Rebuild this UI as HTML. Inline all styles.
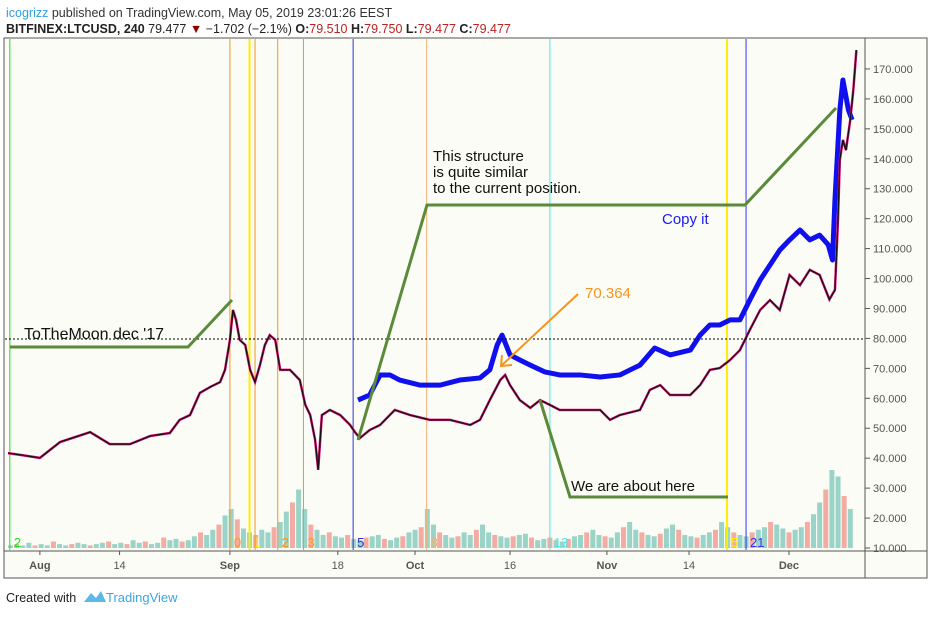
<!DOCTYPE html>
<html><head><meta charset="utf-8"><style>
body{margin:0;background:#fff;width:932px;height:614px;overflow:hidden;font-family:"Liberation Sans",sans-serif}
</style></head><body>
<svg id="c" width="932" height="614" xmlns="http://www.w3.org/2000/svg">
<text x="6" y="17" font-size="12.5" fill="#333"><tspan fill="#2e9fe0">icogrizz</tspan> published on TradingView.com, May 05, 2019 23:01:26 EEST</text>
<text x="6" y="33" font-size="12.5" fill="#222"><tspan font-weight="bold">BITFINEX:LTCUSD, 240</tspan> 79.477 <tspan fill="#8b0000">▼</tspan> −1.702 (−2.1%) <tspan font-weight="bold">O:</tspan><tspan fill="#b22">79.510</tspan> <tspan font-weight="bold">H:</tspan><tspan fill="#b22">79.750</tspan> <tspan font-weight="bold">L:</tspan><tspan fill="#b22">79.477</tspan> <tspan font-weight="bold">C:</tspan><tspan fill="#b22">79.477</tspan></text>
<rect x="4" y="38" width="923" height="540" fill="#fbfcf5" stroke="#555"/>
<line x1="865" y1="38" x2="865" y2="578" stroke="#555"/>
<line x1="4" y1="551" x2="927" y2="551" stroke="#555"/>
<g id="vol"></g><g id="vlines"></g><g id="ticks"></g><g id="series"></g>
<line x1="5" y1="339" x2="864" y2="339" stroke="#000" stroke-dasharray="2,2"/>
<polyline points="10,347 188,347 232,300" fill="none" stroke="#5a8a3a" stroke-width="3"/>
<polyline points="358,440 427,205 745,205 836,108" fill="none" stroke="#5a8a3a" stroke-width="3"/>
<polyline points="540,400 570,497 728,497" fill="none" stroke="#5a8a3a" stroke-width="3"/>
<line x1="578" y1="294" x2="502" y2="365" stroke="#f7941d" stroke-width="2"/>
<polyline points="502,355 501,366 512,365" fill="none" stroke="#f7941d" stroke-width="2"/>
<text x="24" y="339" font-size="16" fill="#111">ToTheMoon dec '17</text>
<text x="433" y="161" font-size="15" fill="#111"><tspan x="433">This structure</tspan><tspan x="433" dy="16">is quite similar</tspan><tspan x="433" dy="16">to the current position.</tspan></text>
<text x="662" y="224" font-size="15" fill="#1a1aee">Copy it</text>
<text x="585" y="298" font-size="15" fill="#f7941d">70.364</text>
<text x="571" y="491" font-size="15" fill="#111">We are about here</text>
<text x="6" y="602" font-size="12.5" fill="#222">Created with</text>
<path d="M84 602 l7 -9 l5 5 l5 -7 l5 11 z" fill="#5bb8e8"/>
<text x="106" y="602" font-size="13" fill="#3aa6e0">TradingView</text>
</svg>
<script>
const priceDays=[0,2,5.2,8.5,13.4,16.6,19.9,23.2,26.4,28,29.7,31.3,33,34.6,35.4,36.2,36.7,37.2,37.8,38.7,39.5,40.3,41.1,41.9,42.7,43.6,44.4,46,47.6,48.5,49.3,50.1,50.6,51.2,52.5,54.2,55.8,56.6,57.4,59,60.7,63.1,65.6,68.8,72.1,75.4,77,78.6,80.3,81.1,81.9,83.5,85.2,86.8,88.4,90,93.3,96.6,98.2,99.8,103.1,104.7,106.4,108,109.6,111.3,112.9,114.5,116.1,117.8,119.4,121,122.7,124.3,125.9,127.5,129.2,130.8,132.4,134,134.9,135.4,135.7,136.2,136.7,137.4,137.9,138.4];
const priceVals=[41.7,41.1,40.1,45.4,48.7,44.7,44.7,47.4,48.4,52.8,54.4,61.8,63.8,65.4,69.5,79.5,89.5,86.2,79.5,77.8,69.5,65.4,71.1,77.8,81.1,79.5,69.5,69.5,66.1,57.8,54.4,46.1,36.1,54.4,56.1,54.4,51.1,48.7,46.7,49.4,51.1,56.1,54.4,52.8,52.8,51.1,52.8,59.4,66.1,67.8,64.4,59.4,56.8,59.4,57.8,56.1,56.1,56.1,52.8,54.4,56.1,62.8,64.4,61.1,61.1,61.1,64.4,69.5,70.1,72.8,76.1,82.8,89.5,92.8,89.5,101.2,97.8,102.9,101.2,93,96.2,119.6,139.6,146.3,142.9,153,163,176.3];
const copyDays=[57.1,59,60.7,62.3,63.9,67.2,70.5,73.7,77,78.6,79.8,80.6,81.9,83.5,85.2,87.6,90,93.3,96.6,99.8,103.1,105.5,108,111.3,112.9,114.5,116.1,117.8,119.4,121,122.7,124.3,125.9,127.5,129.2,130.8,132.4,133.8,134.5,134.9,135.7,136.2,137.1,137.7];
const copyVals=[59.4,61.1,67.8,67.8,66.1,64.4,64.4,66.1,66.8,69.5,77.8,81.1,74.5,72.8,71.1,68.8,67.8,67.8,67.1,67.8,71.1,76.8,74.5,76.1,81.1,84.5,84.5,86.2,86.2,92.8,99.5,104.5,109.5,112.9,116.2,112.9,114.5,111.3,106.2,126.2,156.3,166.3,156.3,153];
const volumes=[2,3,2,4,2,3,2,5,3,2,3,4,3,2,3,4,5,3,4,3,6,4,5,3,4,8,6,7,5,6,9,12,10,14,18,25,30,22,15,12,10,14,12,16,20,28,35,45,30,18,14,10,12,9,8,10,7,6,8,9,10,7,6,8,9,12,14,16,30,18,12,10,8,9,12,10,14,18,12,10,9,8,9,10,11,8,6,7,8,6,5,7,9,10,12,14,10,9,8,12,16,20,14,12,10,9,11,15,18,14,10,9,8,10,12,14,20,16,12,10,9,12,14,16,20,18,15,12,14,16,20,26,35,45,60,55,40,30];
const priceTicks=[10,20,30,40,50,60,70,80,90,100,110,120,130,140,150,160,170];
const dateLabels=["Aug","14","Sep","18","Oct","16","Nov","14","Dec"];
const dateDays=[5.2,18.2,36.2,53.8,66.4,81.9,97.7,111.1,127.4];
const vlineDays=[0.3,36.2,39.4,40.3,44,48.2,56.3,68.3,88.4,117.3,120.4];
const vlineColors=["#22dd22","#f7941d","#ffee00","#f7941d","#f7941d","#f7941d","#3333cc","#f7b070","#44eeee","#ffee00","#3333ee"];
const fibLabels=["2","0","1","","2","3","5","8","13","5","21"];
const NS="http://www.w3.org/2000/svg";
const X=d=>8+d*6.13, Y=v=>548-(v-10)*2.994;
function mk(tag,attrs,parent){const e=document.createElementNS(NS,tag);for(const k in attrs)e.setAttribute(k,attrs[k]);document.getElementById(parent).appendChild(e);return e;}
volumes.forEach((v,i)=>{const r=mk('rect',{x:X(i),y:548-v*1.3,width:5,height:v*1.3,fill:i%3==1?'#f2aca4':'#9ad4c8'},'vol');

});
vlineDays.forEach((d,i)=>{const l=mk('line',{x1:X(d),x2:X(d),y1:39,y2:550,stroke:vlineColors[i],'stroke-width':i==2||i==9?2:1},'vlines');


if(fibLabels[i]){const t=mk('text',{x:X(d)+4,y:547,'font-size':13,fill:vlineColors[i]},'vlines');t.textContent=fibLabels[i];

}});
priceTicks.forEach(v=>{const y=Y(v);mk('line',{x1:865,x2:870,y1:y,y2:y,stroke:'#555'},'ticks');
const t=mk('text',{x:873,y:y+4,'font-size':11,fill:'#555'},'ticks');t.textContent=v.toFixed(3);

});
dateDays.forEach((d,i)=>{const x=X(d);mk('line',{x1:x,x2:x,y1:551,y2:555,stroke:'#555'},'ticks');
const t=mk('text',{x:x,y:569,'font-size':11,fill:'#555','text-anchor':'middle','font-weight':isNaN(dateLabels[i])?'bold':'normal'},'ticks');t.textContent=dateLabels[i];

});
const cp=mk('polyline',{points:copyDays.map((d,i)=>X(d)+','+Y(copyVals[i])).join(' '),fill:'none',stroke:'#1010ee','stroke-width':5,'stroke-linejoin':'round'},'series');


const pp=mk('polyline',{points:priceDays.map((d,i)=>X(d)+','+Y(priceVals[i])).join(' '),fill:'none',stroke:'#e0107a','stroke-width':2.5},'series');


const pl=mk('polyline',{points:priceDays.map((d,i)=>X(d)+','+Y(priceVals[i])).join(' '),fill:'none',stroke:'#111','stroke-width':1.3},'series');


</script>
</body></html>
